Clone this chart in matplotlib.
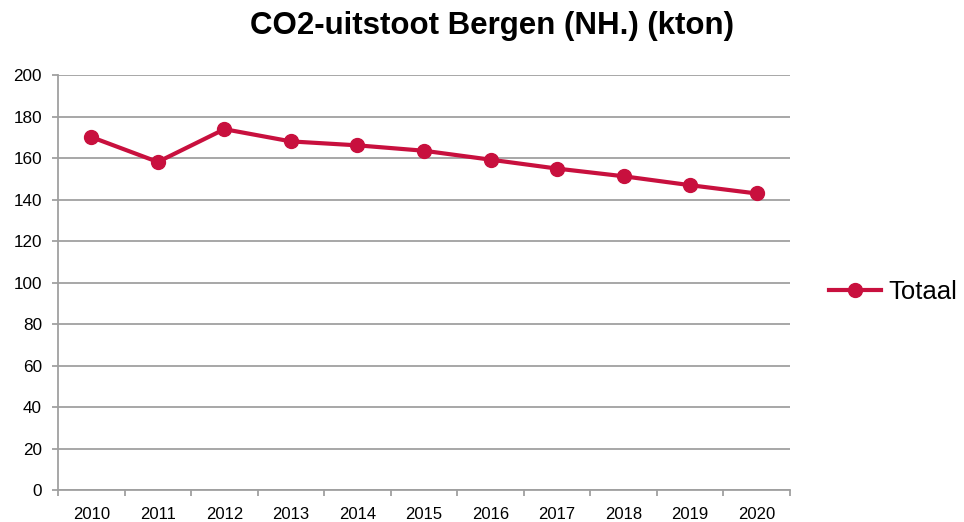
import matplotlib.pyplot as plt
import numpy as np

plt.rcParams['font.family'] = ['Liberation Sans', 'DejaVu Sans']

years = ['2010', '2011', '2012', '2013', '2014', '2015',
         '2016', '2017', '2018', '2019', '2020']
totaal = [170.1, 158.1, 173.9, 168.0, 166.1, 163.5,
          159.2, 154.9, 151.2, 146.9, 142.9]

line_color = '#C8103E'
grid_color = '#A0A0A0'

fig = plt.figure(figsize=(9.64, 5.22), dpi=100)
ax = fig.add_axes([0.0602, 0.0613, 0.7593, 0.795])

x = np.arange(len(years))
ax.plot(x, totaal, color=line_color, lw=3, marker='o', markersize=10,
        label='Totaal', zorder=3)

ax.set_xlim(-0.5, len(years) - 0.5)
ax.set_ylim(0, 200)
ax.set_yticks(np.arange(0, 201, 20))
ax.yaxis.grid(True, color=grid_color, lw=1.3)
ax.set_axisbelow(True)

# category labels centred, tick marks on the boundaries
ax.set_xticks(x)
ax.set_xticklabels(years)
ax.set_xticks(np.arange(-0.5, len(years)), minor=True)
ax.tick_params(axis='x', which='major', length=0, labelsize=12, pad=12)
ax.tick_params(axis='x', which='minor', length=4.5, width=1.3,
               color=grid_color, direction='out')
ax.tick_params(axis='y', length=4.5, width=1.3, color=grid_color,
               labelsize=12.3, pad=7)

for side in ['top', 'right']:
    ax.spines[side].set_visible(False)
for side in ['left', 'bottom']:
    ax.spines[side].set_color(grid_color)
    ax.spines[side].set_linewidth(1.3)

fig.text(0.51, 0.950, 'CO2-uitstoot Bergen (NH.) (kton)', ha='center',
         va='center', fontsize=22.5, fontweight='bold')

leg = ax.legend(loc='center left', bbox_to_anchor=(1.022, 0.477), frameon=False,
                fontsize=18.5, handlelength=2.0, handletextpad=0.3)

fig.savefig('out.png', dpi=100, facecolor='white')
